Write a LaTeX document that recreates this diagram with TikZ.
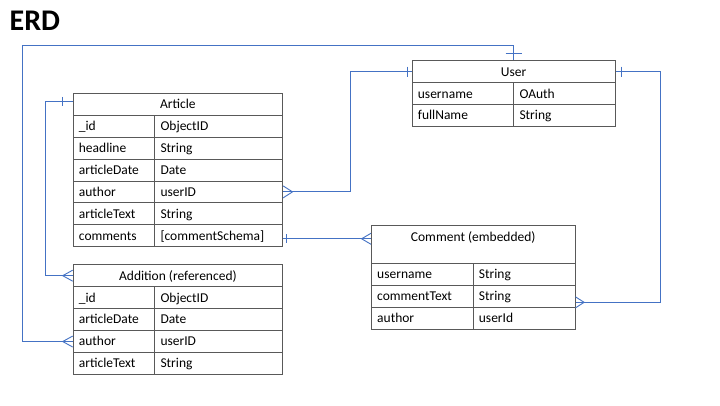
\documentclass[tikz,border=0pt]{standalone}
\usepackage{fontspec}
\setmainfont{Carlito}
\definecolor{erdblue}{HTML}{4472C4}
\definecolor{erdgray}{HTML}{595959}
\begin{document}
\begin{tikzpicture}[x=1pt,y=-1pt,
  erdbox/.style={draw=erdgray, line width=0.8pt, anchor=north west, inner xsep=5.8pt, inner ysep=0pt,
    minimum height=21.95pt, text height=11.8pt, text depth=3pt, align=left,
    font=\fontsize{13.5}{15}\selectfont},
  erdhead/.style={draw=erdgray, line width=0.8pt, anchor=north west, inner sep=0pt,
    minimum height=21.95pt, text height=11.8pt, text depth=3pt,
    font=\fontsize{13.5}{15}\selectfont},
  conn/.style={draw=erdblue, line width=0.9pt}]
\fill[white] (0,0) rectangle (720,405);
\useasboundingbox (0,0) rectangle (720,405);

\node[anchor=base west, inner sep=0pt, font=\fontsize{30}{32}\selectfont\bfseries] (title) at (9.5,30.5) {ERD};

% Article
\node[erdhead, minimum width=209.6pt] (artH) at (72.7,92.7) {Article};
\node[erdbox, text width=70pt] (artIdK) at (72.7,114.65) {\_id};
\node[erdbox, text width=116.4pt] (artIdV) at (154.3,114.65) {ObjectID};
\node[erdbox, text width=70pt] (artHeadK) at (72.7,136.6) {headline};
\node[erdbox, text width=116.4pt] (artHeadV) at (154.3,136.6) {String};
\node[erdbox, text width=70pt] (artDateK) at (72.7,158.55) {articleDate};
\node[erdbox, text width=116.4pt] (artDateV) at (154.3,158.55) {Date};
\node[erdbox, text width=70pt] (artAuthK) at (72.7,180.5) {author};
\node[erdbox, text width=116.4pt] (artAuthV) at (154.3,180.5) {userID};
\node[erdbox, text width=70pt] (artTextK) at (72.7,202.45) {articleText};
\node[erdbox, text width=116.4pt] (artTextV) at (154.3,202.45) {String};
\node[erdbox, text width=70pt] (artCommK) at (72.7,224.4) {comments};
\node[erdbox, text width=116.4pt] (artCommV) at (154.3,224.4) {[commentSchema]};

% Addition
\node[erdhead, minimum width=209.6pt] (addH) at (72.7,264.3) {Addition (referenced)};
\node[erdbox, text width=70pt] (addIdK) at (72.7,286.25) {\_id};
\node[erdbox, text width=116.4pt] (addIdV) at (154.3,286.25) {ObjectID};
\node[erdbox, text width=70pt] (addDateK) at (72.7,308.2) {articleDate};
\node[erdbox, text width=116.4pt] (addDateV) at (154.3,308.2) {Date};
\node[erdbox, text width=70pt] (addAuthK) at (72.7,330.15) {author};
\node[erdbox, text width=116.4pt] (addAuthV) at (154.3,330.15) {userID};
\node[erdbox, text width=70pt] (addTextK) at (72.7,352.1) {articleText};
\node[erdbox, text width=116.4pt] (addTextV) at (154.3,352.1) {String};

% User
\node[erdhead, minimum width=203pt] (userH) at (411.7,60.3) {User};
\node[erdbox, text width=90pt] (userNameK) at (411.7,82.25) {username};
\node[erdbox, text width=89.8pt] (userNameV) at (513.3,82.25) {OAuth};
\node[erdbox, text width=90pt] (userFullK) at (411.7,104.2) {fullName};
\node[erdbox, text width=89.8pt] (userFullV) at (513.3,104.2) {String};

% Comment
\node[erdhead, minimum width=203.7pt, minimum height=37.4pt, text depth=18.4pt] (commH) at (371,225.3) {Comment (embedded)};
\node[erdbox, text width=90.1pt] (commNameK) at (371,262.7) {username};
\node[erdbox, text width=90.4pt] (commNameV) at (472.7,262.7) {String};
\node[erdbox, text width=90.1pt] (commTextK) at (371,284.65) {commentText};
\node[erdbox, text width=90.4pt] (commTextV) at (472.7,284.65) {String};
\node[erdbox, text width=90.1pt] (commAuthK) at (371,306.6) {author};
\node[erdbox, text width=90.4pt] (commAuthV) at (472.7,306.6) {userId};

% 1: Addition author -> User top
\draw[conn] (addAuthK.west) -- ++(-50.4,0) |- ([shift={(0,-14.6)}]userH.north) -- (userH.north);
\draw[conn] ([shift={(-10,0)}]addAuthK.west) -- ([shift={(0,-5.5)}]addAuthK.west);
\draw[conn] ([shift={(-10,0)}]addAuthK.west) -- ([shift={(0,5.5)}]addAuthK.west);
\draw[conn] ([shift={(-8,-7)}]userH.north) -- ([shift={(8,-7)}]userH.north);

% 2: Article header -> Addition header
\coordinate (aL) at ([shift={(0,-2.7)}]artH.west);
\draw[conn] (aL) -- ++(-27.4,0) |- (addH.west);
\draw[conn] ([shift={(-10,-4.5)}]aL) -- ([shift={(-10,4.5)}]aL);
\draw[conn] ([shift={(-10,0)}]addH.west) -- ([shift={(0,-5.5)}]addH.west);
\draw[conn] ([shift={(-10,0)}]addH.west) -- ([shift={(0,5.5)}]addH.west);

% 3: Article author -> User left
\draw[conn] (artAuthV.east) -- ++(67,0) |- (userH.west);
\draw[conn] ([shift={(9.4,0)}]artAuthV.east) -- ([shift={(0,-6)}]artAuthV.east);
\draw[conn] ([shift={(9.4,0)}]artAuthV.east) -- ([shift={(0,6)}]artAuthV.east);
\draw[conn] ([shift={(-4,-5)}]userH.west) -- ([shift={(-4,5)}]userH.west);

% 4: Article comments -> Comment header
\coordinate (cA) at ([shift={(0,3)}]artCommV.east);
\coordinate (cB) at (cA -| commH.west);
\draw[conn] (cA) -- (cB);
\draw[conn] ([shift={(3.4,-4.5)}]cA) -- ([shift={(3.4,4.5)}]cA);
\draw[conn] ([shift={(-9.4,0)}]cB) -- ([shift={(0,-5.5)}]cB);
\draw[conn] ([shift={(-9.4,0)}]cB) -- ([shift={(0,5.5)}]cB);

% 5: User right -> Comment commentText
\coordinate (cT) at ([shift={(0,6.3)}]commTextV.east);
\draw[conn] (userH.east) -- ++(44.6,0) |- (cT);
\draw[conn] ([shift={(6,-5)}]userH.east) -- ([shift={(6,5)}]userH.east);
\draw[conn] ([shift={(8.6,0)}]cT) -- ([shift={(0,-5.5)}]cT);
\draw[conn] ([shift={(8.6,0)}]cT) -- ([shift={(0,5.5)}]cT);
\end{tikzpicture}
\end{document}
